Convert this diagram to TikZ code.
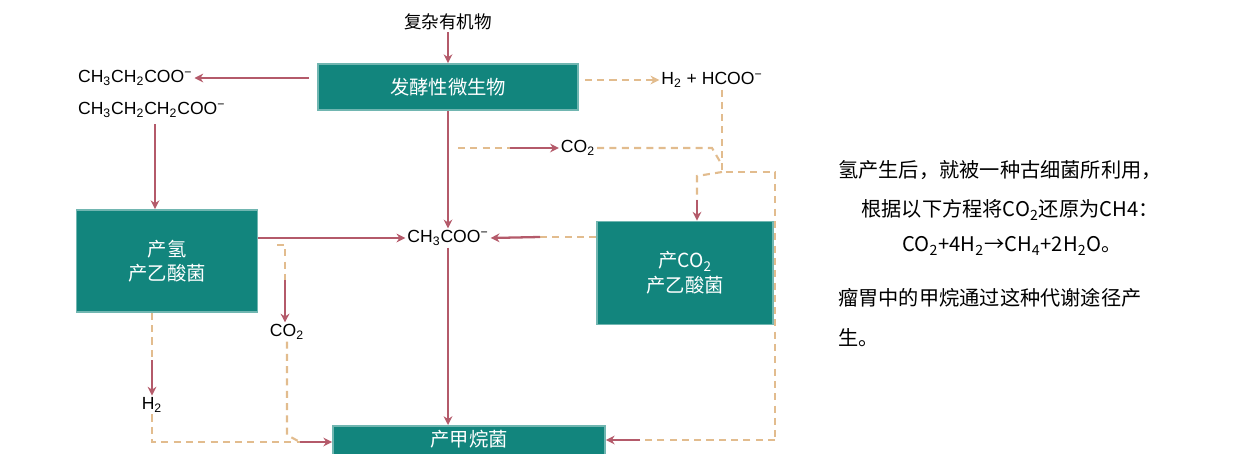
\documentclass[tikz,border=0pt]{standalone}
\usepackage{fontspec}
\setmainfont{Liberation Sans}
\newfontfamily\cjk{Noto Sans CJK SC}
\usetikzlibrary{arrows.meta}
\definecolor{teal1}{HTML}{12857D}
\definecolor{sol}{HTML}{B45A6A}
\definecolor{dsh}{HTML}{E2BC8E}
\tikzset{
 box/.style={fill=teal1,draw=teal1!60,line width=1pt,text=white,font=\cjk\fontsize{11}{14}\selectfont,align=center,inner sep=0pt},
 lbl/.style={font=\fontsize{10}{12}\selectfont,inner sep=1pt},
 sa/.style={draw=sol,line width=1.3pt,-{Stealth[length=5pt,width=5pt]}},
 da/.style={draw=dsh,line width=1.2pt,dashed,dash pattern=on 4pt off 3pt},
 dae/.style={da,-{Stealth[length=5pt,width=5pt]}},
 txt/.style={font=\cjk\fontsize{11.5}{14}\selectfont,inner sep=0pt}
}
\begin{document}
\begin{tikzpicture}[x=0.02cm,y=-0.02cm]
\useasboundingbox (0,0) rectangle (1247,453);
\begin{scope}
\clip (0,0) rectangle (1247,453);
\node[box,minimum width=260*0.02cm,minimum height=46*0.02cm] (fer) at (448,87) {发酵性微生物};
\node[box,minimum width=181*0.02cm,minimum height=102*0.02cm] (hb) at (167,261) {产氢\\产乙酸菌};
\node[box,minimum width=176*0.02cm,minimum height=103*0.02cm] (cb) at (685,273) {产CO\textsubscript{2}\\产乙酸菌};
\node[box,minimum width=272*0.02cm,minimum height=50*0.02cm,anchor=north] (mb) at (469,425) {\raisebox{14pt}{产甲烷菌}};
\end{scope}
\node[font=\cjk\fontsize{10}{12}\selectfont,inner sep=1pt] (cx) at (448,22) {复杂有机物};
\node[lbl,anchor=west] (p1) at (76,78) {CH\textsubscript{3}CH\textsubscript{2}COO\textsuperscript{−}};
\node[lbl,anchor=west] (p2) at (76,110) {CH\textsubscript{3}CH\textsubscript{2}CH\textsubscript{2}COO\textsuperscript{−}};
\node[lbl] (hh) at (712,80) {H\textsubscript{2} + HCOO\textsuperscript{−}};
\node[lbl] (co1) at (578,148) {CO\textsubscript{2}};
\node[lbl] (ac) at (448,238) {CH\textsubscript{3}COO\textsuperscript{−}};
\node[lbl] (co2) at (287,332) {CO\textsubscript{2}};
\node[lbl] (h2) at (152,405) {H\textsubscript{2}};
\coordinate (j1) at (722,172);
\coordinate (r1) at (775,172);
\coordinate (r2) at (775,440);
\coordinate (l1) at (152,442);
\coordinate (c2) at (287,435);
\coordinate (v1) at (155,124);
\coordinate (v2) at (697,200);
\coordinate (v3) at (285,280);
% solid
\draw[sa] (cx.south) -- (fer.north);
\draw[sa] ([shift={(-8,-9)}]fer.west) -- (p1.east);
\draw[sa] (v1) -- (v1 |- hb.north);
\draw[sa] (fer.south) -- (ac.north);
\draw[sa] (hb.east |- ac) -- (ac.west);
\draw[sa] (ac.south) -- (mb.north -| ac);
% dashed
\draw[dae] ([shift={(6,-7)}]fer.east) -- (hh.west);
\draw[da] (458,148) -- (510,148);
\draw[sa] (510,148) -- (co1.west);
\draw[da] (co1.east) -- (712,148) -- (722,165);
\draw[da] (hh.south -| j1) -- (j1) -- (r1) -- (r2);
\draw[da] (j1) -- (697,176) -- (v2);
\draw[sa] (v2) -- (v2 |- cb.north);
\draw[da] ([shift={(0,-36)}]cb.west) -- (540,237);
\draw[sa] (540,237) -- (ac.east);
\draw[da] (r2) -- (640,440);
\draw[sa] (640,440) -- (mb.east |- r2);
\draw[da] (hb.south -| h2) -- (152,360);
\draw[sa] (152,360) -- (h2.north);
\draw[da] (h2.south) -- (l1) -- (300,442);
\draw[sa] (300,442) -- (mb.west |- l1);
\draw[da] (277,245) -- (285,245) -- (v3);
\draw[sa] (v3) -- (v3 |- co2.north);
\draw[da] (co2.south) -- (c2) -- (300,442);
% text
\node[txt,anchor=west] (t1) at (838,170) {氢产生后，就被一种古细菌所利用，};
\node[txt] (t2) at (1010,210) {根据以下方程将CO\textsubscript{2}还原为CH4：};
\node[txt] (t3) at (1012,246) {CO\textsubscript{2}+4H\textsubscript{2}→CH\textsubscript{4}+2H\textsubscript{2}O。};
\node[txt,anchor=west] (t4) at (838,298) {瘤胃中的甲烷通过这种代谢途径产};
\node[txt,anchor=west] (t5) at (838,338) {生。};
\end{tikzpicture}
\end{document}
